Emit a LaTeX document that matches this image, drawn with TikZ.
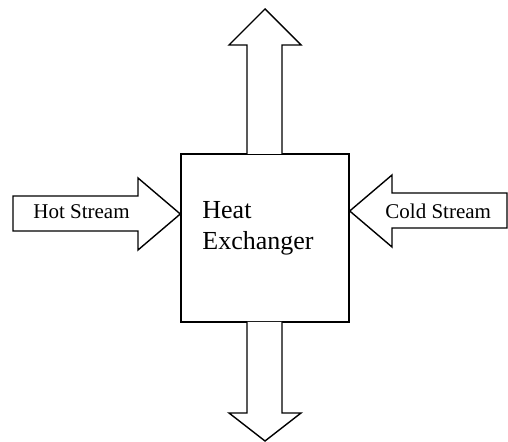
\documentclass[tikz,border=0pt]{standalone}
\usepackage{fontspec}
\setmainfont{Liberation Serif}
\usepackage{tikz}
\usetikzlibrary{positioning, calc}

\tikzset{
  blockarrow/.style={draw=black, line width=0.7pt, fill=white, line join=miter},
  unitbox/.style={draw=black, line width=0.7pt, fill=white, minimum size=84pt, inner sep=0pt},
  streamlabel/.style={inner sep=0pt, font=\fontsize{10.5}{12.6}\selectfont},
  boxlabel/.style={inner sep=0pt, align=left, font=\fontsize{13}{15.5}\selectfont}
}

\begin{document}
\begin{tikzpicture}[x=0.5pt, y=-0.5pt]
  \useasboundingbox (0,0) rectangle (508,442);

  % heat exchanger unit
  \node[unitbox] (hx) at (265,238) {};

  % outlet arrows (top and bottom)
  \draw[blockarrow] (247,154) -- (247,45) -- (229,45) -- (265,9) -- (301,45) -- (282,45) -- (282,154);
  \draw[blockarrow] (247,322) -- (247,413) -- (229,413) -- (265,441) -- (301,413) -- (282,413) -- (282,322);

  % inlet arrows (hot and cold streams)
  \draw[blockarrow] (hx.west |- 0,214) coordinate (hottip) -- (138,178) -- (138,196) -- (13,196)
    -- (13,231) -- (138,231) -- (138,250) -- cycle;
  \draw[blockarrow] (hx.east |- 0,211) coordinate (coldtip) -- (392,175) -- (392,193) -- (507,193)
    -- (507,228) -- (392,228) -- (392,247) -- cycle;

  \node[streamlabel, anchor=base west] (hotlbl) at (33,219) {Hot Stream};
  \node[streamlabel, anchor=base west] (coldlbl) at (385,219) {Cold Stream};
  \node[boxlabel, anchor=base west] (hxlbl) at (202,250) {Heat\\Exchanger};
\end{tikzpicture}
\end{document}
